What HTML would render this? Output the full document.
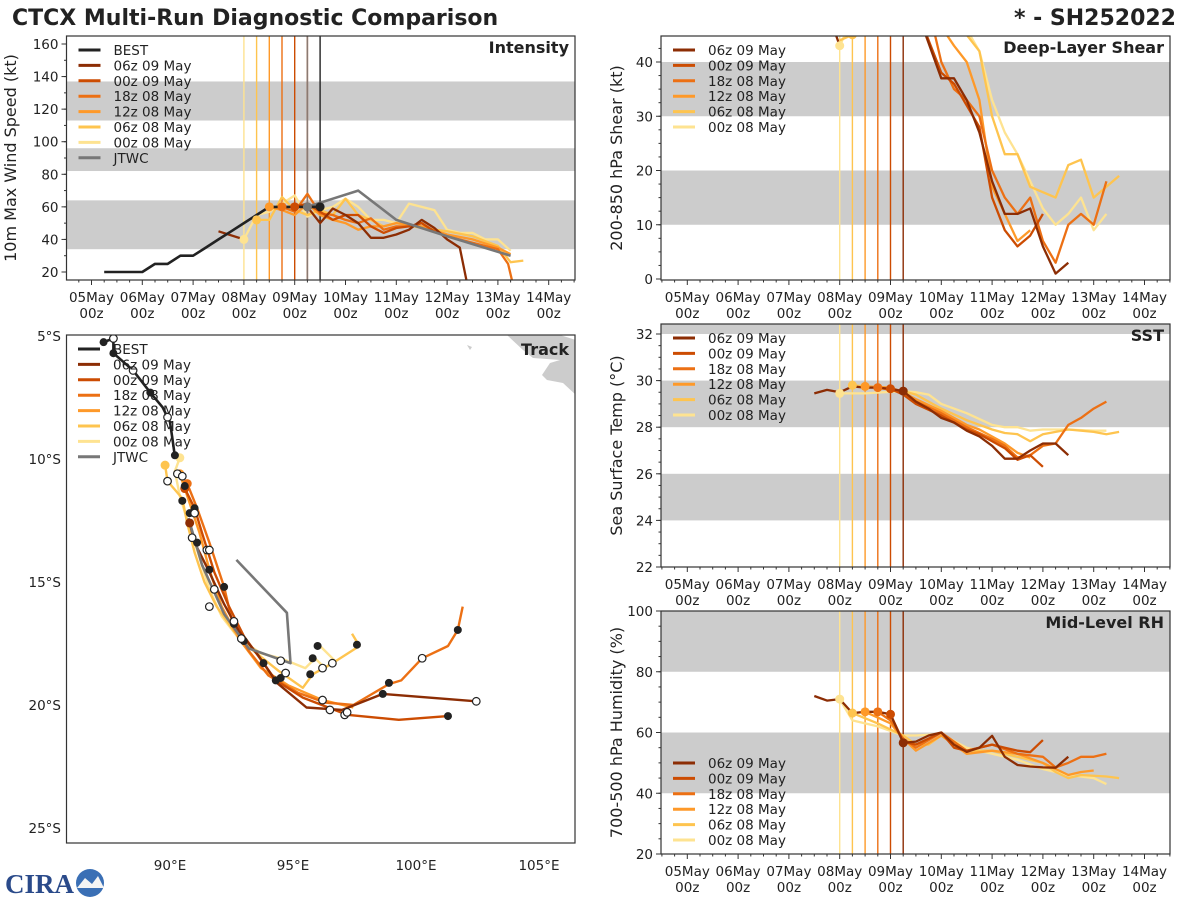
<!DOCTYPE html>
<html><head><meta charset="utf-8">
<style>
body{margin:0;background:#fff;}
svg{display:block;font-family:"DejaVu Sans","Liberation Sans",sans-serif;}
</style></head>
<body>
<svg id="fig" width="1200" height="900" xmlns="http://www.w3.org/2000/svg">
<text x="12" y="25" font-size="22" font-weight="bold" fill="#222">CTCX Multi-Run Diagnostic Comparison</text>
<text x="1176" y="25" font-size="22" font-weight="bold" fill="#222" text-anchor="end">* - SH252022</text>
<g id="logo">
<text x="5" y="893" font-size="27" font-weight="bold" fill="#2a4a8a" font-family="Liberation Serif,serif">CIRA</text>
<circle cx="90" cy="883" r="14" fill="#3a6fb5"/>
<path d="M77 888 L85 878 L92 884 L98 876 L104 888 Z" fill="#f4f4f4"/>
</g>
</svg>
<script>
// ---------- DATA ----------
var runNames = ["06z 09 May","00z 09 May","18z 08 May","12z 08 May","06z 08 May","00z 08 May"];
var runColors = ["#8c2d04","#cc4c02","#ec7014","#fe9929","#fec44f","#fee391"];
var initDays = [4.25,4.0,3.75,3.5,3.25,3.0];
var dayLabels = ["05May","06May","07May","08May","09May","10May","11May","12May","13May","14May"];

var bestDays = [0.25,0.5,0.75,1.0,1.25,1.5,1.75,2.0,2.25,2.5,2.75,3.0,3.25,3.5,3.75,4.0,4.25,4.5];
var bestVmax = [20,20,20,20,25,25,30,30,35,40,45,50,55,60,60,60,60,60];
var jtwcDays = [4.25,4.75,5.25,6.0,7.0,8.25];
var jtwcVmax = [60,65,70,52,42,30];

var vmax06z09 = [[2.5,45],[3.0,40],null,[4.25,60],[4.5,50],[4.75,59],[5,55],[5.25,50],[5.5,41],[5.75,41],[6,43],[6.25,46],[6.5,52],[6.75,47],[7,40],[7.25,35],[7.4,12]];
var vmax00z09 = [[4.0,60],[4.25,62],[4.5,57],[4.75,52],[5,55],[5.25,55],[5.5,48],[5.75,44],[6,47],[6.25,48],[6.5,50],[6.75,45]];
var vmax18z08 = [[3.75,60],[4,57],[4.25,68],[4.5,56],[4.75,55],[5,52],[5.25,50],[5.5,53],[5.75,46],[6,48],[6.25,48],[6.5,50],[6.75,45],[7,42],[7.5,38],[8,34],[8.2,25],[8.3,12]];
var vmax12z08 = [[3.5,60],[3.75,58],[4,55],[4.25,62],[4.5,55],[4.75,52],[5,50],[5.25,46],[5.5,48],[5.75,48],[6,50],[6.5,48],[7,43],[7.5,40],[8,35],[8.25,31]];
var vmax06z08 = [[3.25,52],[3.5,52],[3.75,66],[4,58],[4.25,55],[4.5,58],[4.75,55],[5,65],[5.25,55],[5.5,52],[5.75,48],[6,50],[6.5,47],[7,45],[7.5,42],[8,36],[8.25,26],[8.5,27]];
var vmax00z08 = [[3,40],[3.25,55],[3.5,57],[3.75,62],[4,67],[4.25,54],[4.5,58],[4.75,60],[5,65],[5.25,60],[5.5,52],[5.75,52],[6,50],[6.25,62],[6.5,60],[6.75,58],[7,46],[7.25,44],[7.5,44],[7.75,40],[8,40],[8.25,33]];

var shear06z09 = [[2.85,47],[3.0,43],null,[4.5,50],[5,37],[5.25,37],[5.5,33],[5.75,27],[6,18],[6.25,12],[6.5,12],[6.75,13],[7,6],[7.25,1],[7.5,3]];
var shear00z09 = [[4.5,50],[5,38],[5.25,36],[5.5,32],[5.75,28],[6,15],[6.25,9],[6.5,6],[6.75,8],[7,12]];
var shear18z08 = [[4.75,50],[5,40],[5.25,35],[5.5,33],[5.75,30],[6,20],[6.25,15],[6.5,12],[6.75,15],[7,7],[7.25,3],[7.5,10],[7.75,12],[8,10],[8.25,18]];
var shear12z08 = [[4.75,50],[5.25,43],[5.5,40],[5.75,33],[6,17],[6.25,12],[6.5,7],[6.75,9]];
var shear06z08 = [[3.0,44],[3.25,45],null,[5,50],[5.5,45],[5.75,42],[6,30],[6.25,23],[6.5,23],[6.75,17],[7,16],[7.25,15],[7.5,21],[7.75,22],[8,15],[8.25,17],[8.5,19]];
var shear00z08 = [[3.0,43],[3.1,45],null,[5,50],[5.5,46],[5.75,42],[6,33],[6.25,27],[6.5,23],[6.75,18],[7,13],[7.25,10],[7.5,12],[7.75,15],[8,9],[8.25,12]];

var sst06z09 = [[2.5,29.45],[2.75,29.6],[3.0,29.5],[3.25,29.75],[3.5,29.7],[3.75,29.7],[4.0,29.65],[4.25,29.55],[4.5,29.1],[4.75,28.8],[5,28.4],[5.25,28.2],[5.5,27.85],[5.75,27.6],[6,27.2],[6.25,26.65],[6.5,26.65],[6.75,27.0],[7,27.3],[7.25,27.3],[7.5,26.8]];
var sst00z09 = [[4.0,29.65],[4.25,29.4],[4.5,29.0],[5,28.5],[5.5,27.9],[5.75,27.7],[6,27.4],[6.25,27.1],[6.5,26.6],[6.75,26.8],[7,26.3]];
var sst18z08 = [[3.75,29.7],[4.25,29.5],[4.5,29.1],[5,28.6],[5.5,28.0],[6,27.5],[6.25,27.2],[6.5,26.7],[6.75,26.8],[7,27.2],[7.25,27.3],[7.5,28.1],[7.75,28.4],[8,28.8],[8.25,29.1]];
var sst12z08 = [[3.5,29.75],[4,29.7],[4.25,29.5],[4.5,29.2],[5,28.7],[5.5,28.1],[5.75,27.9],[6,27.6],[6.25,27.3],[6.5,26.9],[6.75,26.7]];
var sst06z08 = [[3.25,29.8],[3.5,29.75],[4.25,29.55],[4.5,29.4],[5,28.8],[5.5,28.3],[6,27.9],[6.25,27.75],[6.5,27.7],[6.75,27.4],[7,27.7],[7.5,27.9],[8,27.8],[8.25,27.7],[8.5,27.8]];
var sst00z08 = [[3.0,29.45],[3.5,29.45],[4.25,29.55],[4.5,29.5],[4.75,29.4],[5,29.0],[5.5,28.6],[6,28.1],[6.25,28.0],[6.5,28.0],[6.75,27.85],[7,27.9],[7.5,27.9],[8,27.85],[8.25,27.85]];

var rh06z09 = [[2.5,72],[2.75,70.5],[3.0,71],[3.25,66.4],[3.5,66.8],[3.75,66.8],[4.0,66],[4.25,56.6],[4.5,57],[4.75,59],[5,60],[5.25,56],[5.5,53.6],[5.75,55],[6,58.9],[6.25,52],[6.5,49.3],[6.75,48.8],[7,48.5],[7.25,48.4],[7.5,52]];
var rh00z09 = [[4,66],[4.25,57],[4.5,56],[4.75,58],[5,60],[5.25,55],[5.5,54],[5.75,55],[6,56],[6.25,55],[6.5,54],[6.75,53.5],[7,57.5]];
var rh18z08 = [[3.75,66.8],[4,64],[4.25,58],[4.5,55],[5,60],[5.5,54],[6,56],[6.5,53],[7,52],[7.25,48.5],[7.5,50],[7.75,52],[8,52],[8.25,53]];
var rh12z08 = [[3.5,66.8],[4,63],[4.25,58],[4.5,54],[5,59],[5.5,53],[6,54],[6.5,53],[7,50],[7.5,46],[7.75,47],[8,47.5]];
var rh06z08 = [[3.25,66.4],[3.75,63],[4.25,59],[4.5,56],[4.75,56],[5,59],[5.5,54],[6,54],[6.5,52],[7,50],[7.25,47],[7.5,45],[7.75,46],[8.25,45.5],[8.5,45]];
var rh00z08 = [[3,71],[3.25,64],[3.75,62],[4.25,59],[4.5,59],[5,59.5],[5.5,55],[6,53],[6.5,51],[7,48],[7.5,46],[8,45],[8.25,43]];

var bestTrack = [[87.3,-5.25],[87.7,-5.1],[87.7,-5.7],[88.5,-6.4],[89.2,-7.3],[89.7,-7.9],[90.0,-8.5],[90.1,-9.2],[90.2,-9.9]];
var track06z09 = [[90.8,-12.6],[91.0,-13.4],[91.6,-14.6],[92.2,-15.9],[92.8,-17.0],[93.6,-18.0],[94.35,-19.1],[95.55,-20.1],[97.0,-20.2],[98.65,-19.55],[102.45,-19.85]];
var track00z09 = [[90.6,-11.2],[91.0,-12.0],[91.3,-13.0],[91.8,-14.6],[92.4,-16.0],[93.0,-17.2],[93.8,-18.3],[94.3,-19.0],[95.4,-19.7],[97.2,-20.4],[99.3,-20.6],[101.3,-20.45]];
var track18z08 = [[90.7,-11.0],[91.1,-12.0],[91.6,-13.4],[92.2,-15.2],[92.5,-16.5],[93.2,-17.8],[94.0,-18.8],[95.2,-19.5],[96.3,-19.9],[97.45,-20.0],[98.9,-19.15],[99.4,-19.0],[100.25,-18.1],[101.3,-17.6],[101.7,-16.95],[101.9,-16.0]];
var track12z08 = [[90.4,-10.6],[90.8,-11.8],[91.2,-13.0],[91.6,-14.5],[92.1,-16.0],[92.8,-17.3],[93.7,-18.5],[94.8,-19.2],[96.2,-19.8],[97.45,-20.1]];
var track06z08 = [[89.8,-10.25],[89.9,-10.9],[90.5,-11.6],[90.7,-12.6],[91.0,-13.8],[91.4,-15],[91.9,-16],[92.6,-17],[93.4,-17.8],[94.4,-18.6],[95.4,-19.3],[95.8,-18.75],[96.6,-18.3],[97.7,-17.6],[97.4,-17.1]];
var track00z08 = [[90.4,-9.95],[90.2,-10.5],[90.4,-11.5],[90.8,-12.8],[91.2,-14.0],[91.6,-15.3],[92.1,-16.4],[92.8,-17.3],[93.7,-17.9],[94.5,-18.1],[95.5,-18.5],[95.9,-18.1],[96.3,-18.5],[96.7,-18.2],[96.1,-17.6]];
var trackJTWC = [[90.75,-12.4],[91.3,-14.3],[92.2,-16.3],[93.2,-17.7],[94.9,-18.3],[94.75,-16.25],[92.7,-14.1]];
var trackFilled = [[87.3,-5.25],[87.7,-5.7],[89.2,-7.3],[90.2,-9.85],[90.6,-11.1],[90.5,-11.7],[91.0,-12.0],[90.8,-12.2],[91.1,-13.4],[91.6,-14.5],[92.2,-15.2],[92.6,-16.7],[93.0,-17.4],[93.8,-18.3],[94.3,-19.0],[94.5,-18.9],[95.7,-18.75],[96.0,-17.6],[95.8,-18.1],[97.6,-17.55],[98.9,-19.1],[98.65,-19.55],[101.7,-16.95],[101.3,-20.45]];
var trackOpen = [[87.7,-5.1],[88.5,-6.4],[89.9,-8.3],[90.3,-10.6],[90.5,-10.7],[89.9,-10.9],[91.0,-12.2],[91.5,-13.7],[90.9,-13.2],[91.6,-13.7],[91.8,-15.3],[91.6,-16.0],[92.6,-16.6],[92.9,-17.3],[94.5,-18.2],[94.7,-18.7],[96.2,-18.5],[96.6,-18.3],[96.2,-19.8],[96.5,-20.2],[97.1,-20.4],[97.2,-20.3],[100.25,-18.1],[102.45,-19.85]];

// ---------- DRAW ----------
var NS="http://www.w3.org/2000/svg";
var fig=document.getElementById('fig');
function mk(tag,attrs,parent){var e=document.createElementNS(NS,tag);for(var k in attrs)e.setAttribute(k,attrs[k]);(parent||fig).appendChild(e);return e;}
function txt(x,y,s,attrs,parent){var e=mk('text',Object.assign({x:x,y:y,'font-size':13,fill:'#222'},attrs||{}),parent);e.textContent=s;return e;}

function timePanel(o){
  var g=mk('g',{});
  
  
  var X=function(d){return o.x05+d*50.8;};
  var Y=function(v){return o.yA+(v-o.vA)*(o.yB-o.yA)/(o.vB-o.vA);};
  var clipId='clip-'+o.name;
  var cp=mk('clipPath',{id:clipId},g);mk('rect',{x:o.L,y:o.T,width:o.R-o.L,height:o.B-o.T},cp);
  o.bands.forEach(function(b){
    var r=mk('rect',{x:o.L,y:Math.max(o.T,Y(b[1])),width:o.R-o.L,height:Math.min(o.B,Y(b[0]))-Math.max(o.T,Y(b[1])),fill:'#cccccc'},g);
    
    
  });
  var pg=mk('g',{'clip-path':'url(#'+clipId+')'},g);
  o.vlines.forEach(function(v){
    var l=mk('line',{x1:X(v[0]),x2:X(v[0]),y1:o.T,y2:o.B,stroke:v[1],'stroke-width':1.4},pg);
    
    
  });
  o.series.forEach(function(s){
    var segs=[[]];
    s.pts.forEach(function(p){if(p===null)segs.push([]);else segs[segs.length-1].push(X(p[0]).toFixed(1)+','+Y(p[1]).toFixed(1));});
    segs.forEach(function(sg){if(sg.length<2)return;
      var pl=mk('polyline',{points:sg.join(' '),fill:'none',stroke:s.color,'stroke-width':s.w||2.3,'stroke-linejoin':'round'},pg);
      
      
    });
  });
  (o.dots||[]).forEach(function(d){
    var c=mk('circle',{cx:X(d[0]),cy:Y(d[1]),r:4.5,fill:d[2]},pg);
    
    
  });
  mk('rect',{x:o.L,y:o.T,width:o.R-o.L,height:o.B-o.T,fill:'none',stroke:'#333','stroke-width':1.2},g);
  for(var q=-2;q<=38;q++){var d=q/4,x=X(d);if(x<o.L||x>o.R)continue;
    mk('line',{x1:x,x2:x,y1:o.B,y2:o.B+(q%4===0?5:2.5),stroke:'#333','stroke-width':1},g);}
  dayLabels.forEach(function(s,i){
    var t1=txt(X(i),o.B+22,s,{'text-anchor':'middle','font-size':13.5},g);
    
    
    var t2=txt(X(i),o.B+38,'00z',{'text-anchor':'middle','font-size':13.5},g);
    
    
  });
  for(var v=o.minorStart;v<=o.vMax+1e-6;v+=o.minor){var y=Y(v);if(y<o.T-0.5||y>o.B+0.5)continue;
    mk('line',{x1:o.L-2.5,x2:o.L,y1:y,y2:y,stroke:'#333','stroke-width':1},g);}
  o.yticks.forEach(function(v){var y=Y(v);
    mk('line',{x1:o.L-5,x2:o.L,y1:y,y2:y,stroke:'#333','stroke-width':1},g);
    var t=txt(o.L-8,y+5,String(v),{'text-anchor':'end','font-size':13.5},g);
    
    
  });
  var cy=(o.T+o.B)/2;
  var yl=txt(0,0,o.ylabel,{'text-anchor':'middle','font-size':16,transform:'translate('+o.ylx+','+cy+') rotate(-90)'},g);
  
  
  var tt=txt(o.R-6,o.T+17,o.title,{'text-anchor':'end','font-size':16,'font-weight':'bold'},g);
  
  
  var lg=mk('g',{},g);
  
  
  o.legend.forEach(function(e,i){var y=o.legY+i*15.4;
    var ln=mk('line',{x1:o.L+12,x2:o.L+34,y1:y,y2:y,stroke:e[1],'stroke-width':3},lg);
    
    
    var t=txt(o.L+47,y+5,e[0],{'font-size':13.5},lg);
    
    
  });
}

var runVmax=[vmax06z09,vmax00z09,vmax18z08,vmax12z08,vmax06z08,vmax00z08];
var runShear=[shear06z09,shear00z09,shear18z08,shear12z08,shear06z08,shear00z08];
var runSST=[sst06z09,sst00z09,sst18z08,sst12z08,sst06z08,sst00z08];
var runRH=[rh06z09,rh00z09,rh18z08,rh12z08,rh06z08,rh00z08];
var runLegend=runNames.map(function(n,i){return [n,runColors[i]];});
function runSeries(arrs){var out=[];for(var i=5;i>=0;i--)out.push({name:'series-'+runNames[i].replace(/ /g,'-').toLowerCase(),color:runColors[i],pts:arrs[i]});return out;}
function vl(){var out=[];for(var i=5;i>=0;i--)out.push([initDays[i],runColors[i]]);return out;}
function startDots(arrs){var out=[];for(var i=5;i>=0;i--){var a=arrs[i];for(var k=0;k<a.length;k++){if(a[k]&&Math.abs(a[k][0]-initDays[i])<0.01){out.push([a[k][0],a[k][1],runColors[i]]);break;}}}return out;}

var intSeries=runSeries(runVmax);
intSeries.push({name:'series-jtwc',color:'#777777',w:2.6,pts:jtwcDays.map(function(d,i){return [d,jtwcVmax[i]];})});
intSeries.push({name:'series-best',color:'#222222',w:2.6,pts:bestDays.map(function(d,i){return [d,bestVmax[i]];})});
var intVl=vl();intVl.push([4.25,'#8a7a72']);intVl.push([4.5,'#222']);
var intDots=startDots(runVmax);intDots.push([4.25,60,'#777']);intDots.push([4.5,60,'#222']);
timePanel({name:'intensity-panel',L:66.5,R:575,T:36,B:280,x05:91.5,yA:272,vA:20,yB:44,vB:160,vMax:170,
  bands:[[34,64],[82,96],[113,137]],vlines:intVl,series:intSeries,dots:intDots,
  yticks:[20,40,60,80,100,120,140,160],minor:10,minorStart:10,ylabel:'10m Max Wind Speed (kt)',ylx:16,title:'Intensity',
  legend:[['BEST','#222']].concat(runLegend).concat([['JTWC','#777']]),legY:50});
timePanel({name:'shear-panel',L:661,R:1170,T:36,B:280,x05:687.3,yA:279,vA:0,yB:62,vB:40,vMax:46,
  bands:[[10,20],[30,40]],vlines:vl(),series:runSeries(runShear),dots:[[3.0,43,runColors[5]],[3.25,45,runColors[4]]],
  yticks:[0,10,20,30,40],minor:2.5,minorStart:0,ylabel:'200-850 hPa Shear (kt)',ylx:622,title:'Deep-Layer Shear',
  legend:runLegend,legY:50});
timePanel({name:'sst-panel',L:661,R:1170,T:324,B:567,x05:687.3,yA:567,vA:22,yB:334,vB:32,vMax:33,
  bands:[[24,26],[28,30],[32,34]],vlines:vl(),series:runSeries(runSST),dots:startDots(runSST),
  yticks:[22,24,26,28,30,32],minor:0.5,minorStart:22,ylabel:'Sea Surface Temp (°C)',ylx:622,title:'SST',
  legend:runLegend,legY:338});
timePanel({name:'rh-panel',L:661,R:1170,T:611,B:854,x05:687.3,yA:854,vA:20,yB:611,vB:100,vMax:100,
  bands:[[40,60],[80,100]],vlines:vl(),series:runSeries(runRH),dots:startDots(runRH),
  yticks:[20,40,60,80,100],minor:5,minorStart:20,ylabel:'700-500 hPa Humidity (%)',ylx:622,title:'Mid-Level RH',
  legend:runLegend,legY:763});

(function(){
  var T=335,B=843;
  var g=mk('g',{});
  
  
  var LX=function(lon){return 170+(lon-90)*24.6;};
  var LY=function(lat){return 336+(-5-lat)*24.6;};
  var cp=mk('clipPath',{id:'clip-track'},g);mk('rect',{x:66.5,y:T,width:508.5,height:B-T},cp);
  var pg=mk('g',{'clip-path':'url(#clip-track)'},g);
  var land=mk('polygon',{points:'507,335 560,335 576,340 576,395 563,383 547,380 542,375 550,363 560,360 533,358 523,350',fill:'#cccccc'},pg);
  
  
  mk('polygon',{points:'467,345 472,347 470,350',fill:'#cccccc'},pg);
  function poly(arr,color,w,name){var pl=mk('polyline',{points:arr.map(function(p){return LX(p[0]).toFixed(1)+','+LY(p[1]).toFixed(1);}).join(' '),fill:'none',stroke:color,'stroke-width':w,'stroke-linejoin':'round'},pg);
    
    }
  var tr=[track06z09,track00z09,track18z08,track12z08,track06z08,track00z08];
  for(var i=5;i>=0;i--)poly(tr[i],runColors[i],2.4,'track-'+runNames[i].replace(/ /g,'-').toLowerCase());
  poly(trackJTWC,'#777',2.6,'track-jtwc');
  poly(bestTrack,'#222',2.6,'track-best');
  for(var i=5;i>=0;i--){var c=mk('circle',{cx:LX(tr[i][0][0]),cy:LY(tr[i][0][1]),r:4.5,fill:runColors[i]},pg);
    
    }
  trackFilled.forEach(function(p){var c=mk('circle',{cx:LX(p[0]),cy:LY(p[1]),r:4,fill:'#222'},pg);
    
    });
  trackOpen.forEach(function(p){var c=mk('circle',{cx:LX(p[0]),cy:LY(p[1]),r:3.8,fill:'#fff',stroke:'#222','stroke-width':1.2},pg);
    
    });
  mk('rect',{x:66.5,y:T,width:508.5,height:B-T,fill:'none',stroke:'#333','stroke-width':1.2},g);
  [90,95,100,105].forEach(function(lon){var t=txt(LX(lon),870,lon+'°E',{'text-anchor':'middle','font-size':13.5},g);
    
    });
  [-5,-10,-15,-20,-25].forEach(function(lat){var t=txt(61,LY(lat)+5,(-lat)+'°S',{'text-anchor':'end','font-size':13.5},g);
    
    });
  var tt=txt(569,355,'Track',{'text-anchor':'end','font-size':16,'font-weight':'bold'},g);
  
  
  var lg=mk('g',{},g);
  
  
  var ent=[['BEST','#222']].concat(runLegend).concat([['JTWC','#777']]);
  ent.forEach(function(e,i){var y=349+i*15.4;
    var ln=mk('line',{x1:78,x2:100,y1:y,y2:y,stroke:e[1],'stroke-width':3},lg);
    
    
    var t=txt(113,y+5,e[0],{'font-size':13.5},lg);
    
    });
})();
</script>
</body></html>
